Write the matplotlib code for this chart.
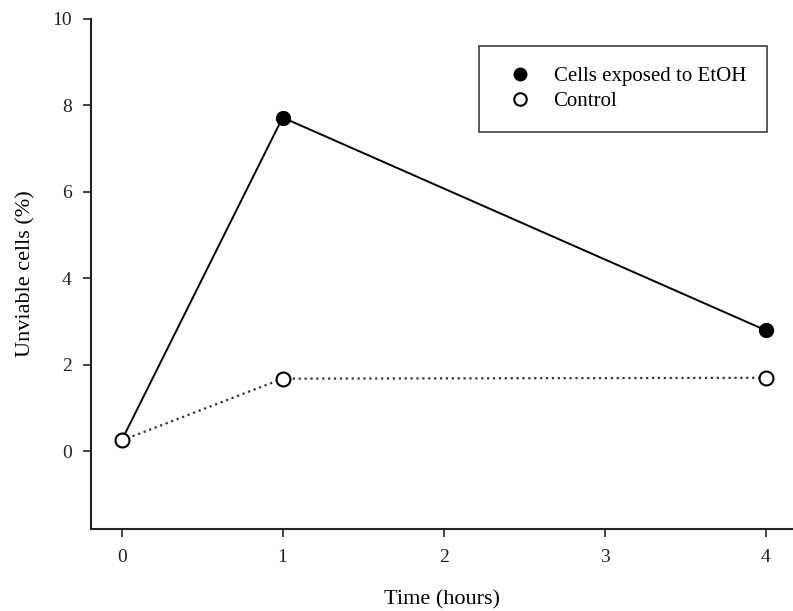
import matplotlib
matplotlib.use('Agg')
import matplotlib.pyplot as plt

plt.rcParams['font.family'] = ['Liberation Serif', 'DejaVu Serif']

# dados
hours = [0, 1, 4]
etoh = [0.25, 7.72, 2.80]
control = [0.25, 1.68, 1.70]
xticks = [0, 1, 2, 3, 4]
yticks = [0, 2, 4, 6, 8, 10]

fig = plt.figure(figsize=(7.93, 6.11), dpi=100)
ax = fig.add_axes([0.1148, 0.134, 0.8852, 0.835])

ax.plot(hours, etoh, '-', color='black', lw=1.4, marker='o', ms=10,
        markerfacecolor='black', markeredgecolor='black', zorder=2)
ax.plot(hours, control, ':', color='#333333', lw=1.6, marker='o', ms=10,
        markerfacecolor='white', markeredgecolor='black', markeredgewidth=1.5, zorder=3)

ax.set_xlim(-0.19, 4.17)
ax.set_ylim(-1.8, 10)
ax.set_xticks(xticks)
ax.set_yticks(yticks)
ax.tick_params(direction='out', length=6, width=1.2, labelsize=14, colors='#222222', pad=8)

for s in ['top', 'right']:
    ax.spines[s].set_visible(False)
for s in ['left', 'bottom']:
    ax.spines[s].set_linewidth(1.5)
    ax.spines[s].set_color('#222222')

ax.set_xlabel('Time (hours)', fontsize=16, labelpad=18)
ax.set_ylabel('Unviable cells (%)', fontsize=16, labelpad=12)

h1 = plt.Line2D([], [], ls='none', marker='o', ms=9, mfc='black', mec='black')
h2 = plt.Line2D([], [], ls='none', marker='o', ms=9, mfc='white', mec='black', mew=1.5)
leg = ax.legend([h1, h2], ['Cells exposed to EtOH', 'Control'],
                loc='upper left', bbox_to_anchor=(0.552, 0.947), fontsize=15,
                frameon=True, fancybox=False, edgecolor='#222222',
                handletextpad=0.6, borderpad=1.0, labelspacing=0.25, borderaxespad=0)
leg.get_frame().set_linewidth(1.3)

fig.savefig('out.png', dpi=100)
